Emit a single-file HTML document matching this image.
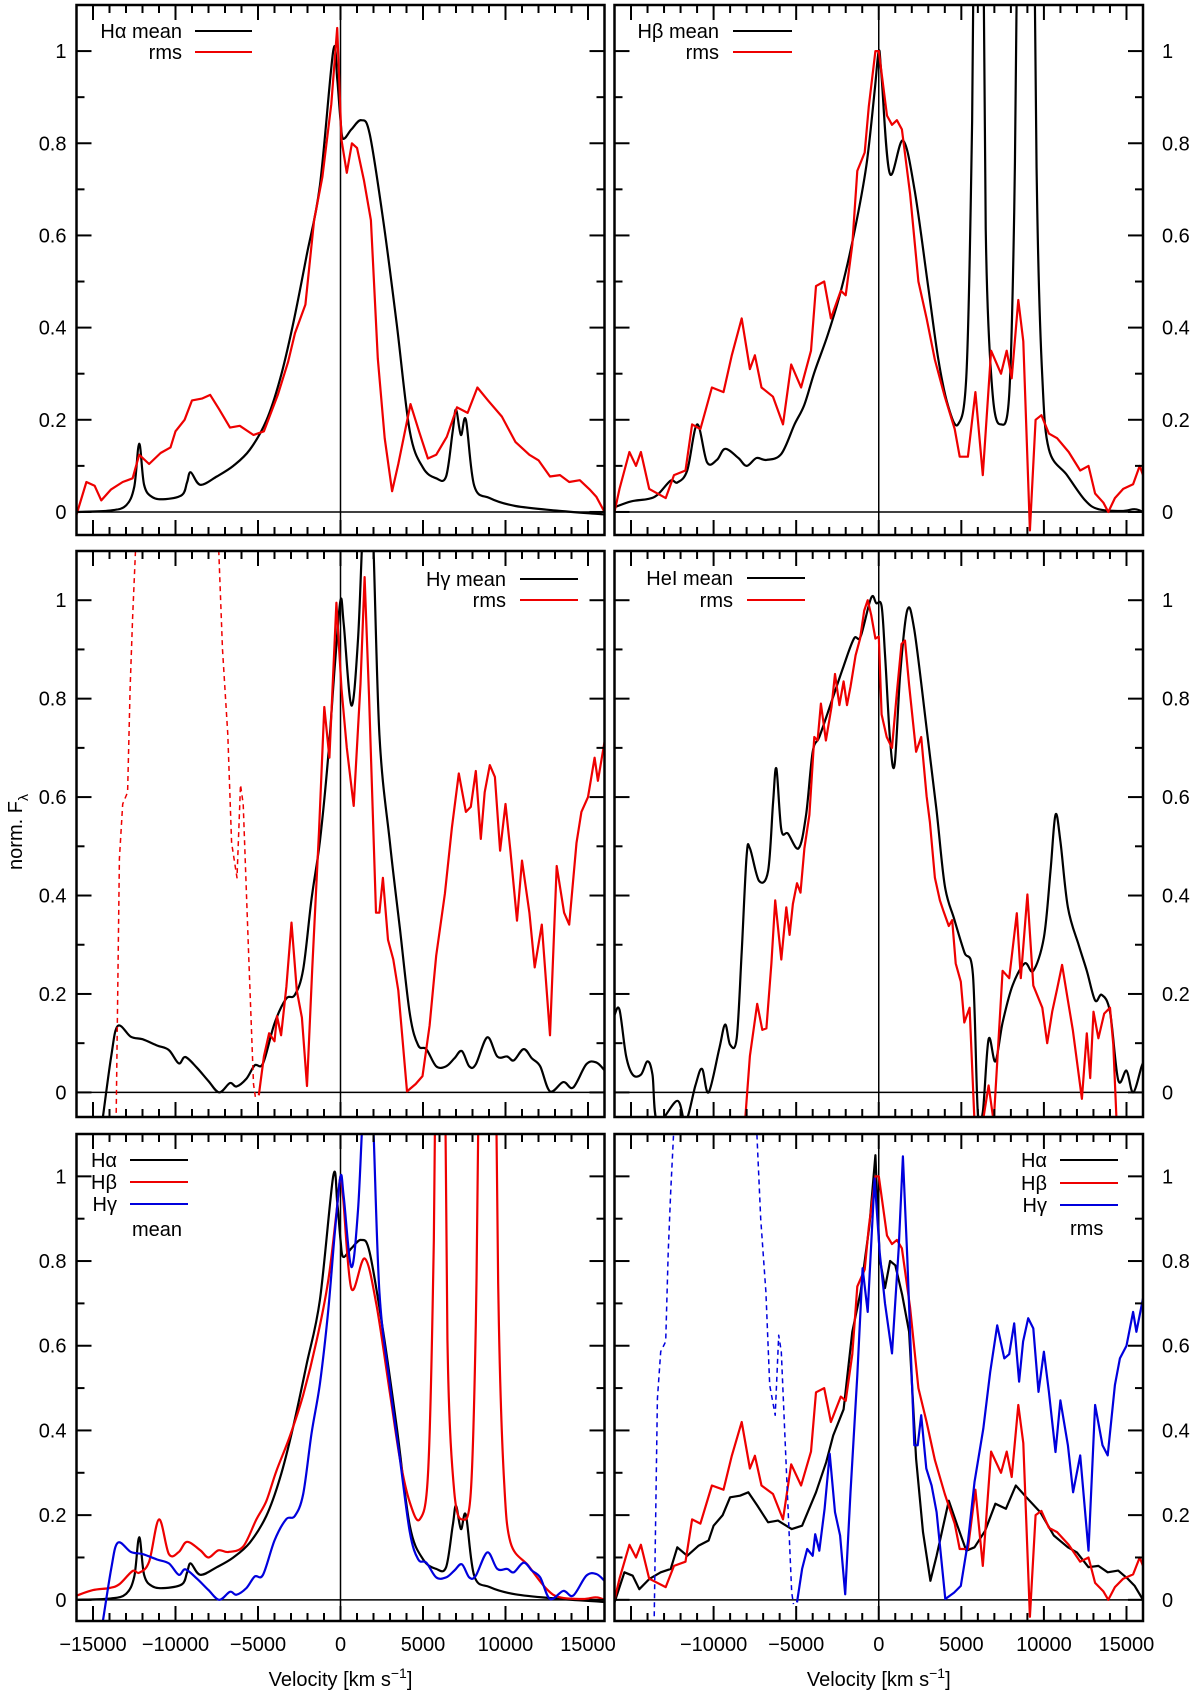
<!DOCTYPE html>
<html><head><meta charset="utf-8"><style>
html,body{margin:0;padding:0;background:#fff;}
svg{display:block;font-family:"Liberation Sans",sans-serif;}
</style></head><body>
<svg id="fig" width="1200" height="1693" viewBox="0 0 1200 1693" xmlns="http://www.w3.org/2000/svg"></svg>
<script>
// velocities in 10^3 km/s, normalized flux
const haMean=[[-16,0],[-14,0.003],[-13,0.014],[-12.5,0.055],[-12.2,0.148],[-11.9,0.059],[-11.4,0.032],[-10.6,0.028],[-9.6,0.037],[-9.3,0.064],[-9.08,0.086],[-8.5,0.059],[-7.5,0.077],[-6.5,0.1],[-5.5,0.135],[-4.5,0.198],[-3.67,0.287],[-2.86,0.41],[-2.06,0.555],[-1.25,0.708],[-0.44,1.0],[-0.2,0.94],[0,0.85],[0.16,0.81],[0.66,0.83],[1.26,0.85],[1.77,0.82],[2.6,0.63],[3.4,0.41],[4.2,0.175],[5.0,0.096],[5.8,0.073],[6.4,0.077],[6.8,0.175],[7.0,0.222],[7.3,0.167],[7.6,0.2],[8.1,0.057],[9.05,0.03],[10.6,0.013],[13.1,0.003],[15.9,-0.005],[16,-0.006]];
const hbMean=[[-16,0.01],[-15,0.023],[-14,0.028],[-13.4,0.037],[-12.6,0.068],[-12.2,0.064],[-11.6,0.09],[-11.0,0.19],[-10.4,0.108],[-9.8,0.113],[-9.3,0.137],[-8.5,0.117],[-8.0,0.1],[-7.4,0.117],[-6.8,0.113],[-5.9,0.126],[-5.1,0.19],[-4.5,0.233],[-3.88,0.305],[-3.07,0.386],[-2.26,0.484],[-1.46,0.61],[-0.75,0.752],[-0.25,0.913],[0,1.0],[0.16,0.95],[0.66,0.735],[1.47,0.806],[2.18,0.696],[2.99,0.49],[3.6,0.333],[4.2,0.23],[4.8,0.19],[5.3,0.293],[5.6,0.727],[5.77,1.3],[6.0,3],[6.32,1.3],[6.5,0.57],[6.9,0.254],[7.4,0.19],[7.9,0.254],[8.2,0.65],[8.4,1.3],[9.0,3],[9.4,1.3],[9.6,0.65],[9.9,0.293],[10.3,0.136],[11.4,0.08],[12.5,0.025],[13.3,0.006],[14.7,0.002],[15.5,0.006],[16,0]];
const hgMean=[[-14.4,-0.05],[-13.9,0.072],[-13.5,0.135],[-12.7,0.113],[-12.0,0.108],[-11.1,0.095],[-10.4,0.086],[-9.8,0.059],[-9.4,0.072],[-8.7,0.05],[-8.0,0.023],[-7.35,0.0],[-6.7,0.019],[-6.3,0.012],[-5.7,0.028],[-5.2,0.055],[-4.7,0.059],[-4.0,0.14],[-3.3,0.19],[-2.77,0.198],[-2.26,0.25],[-1.75,0.394],[-1.25,0.51],[-0.75,0.68],[-0.34,0.869],[0,1.0],[0.2,0.95],[0.66,0.786],[1.06,0.92],[1.36,1.15],[1.7,1.3],[1.96,1.15],[2.36,0.727],[3.0,0.506],[3.6,0.333],[4.2,0.16],[4.7,0.096],[5.2,0.088],[5.8,0.053],[6.4,0.053],[6.9,0.069],[7.35,0.084],[7.8,0.053],[8.2,0.057],[8.9,0.112],[9.5,0.073],[10.1,0.073],[10.5,0.065],[11.1,0.088],[11.6,0.069],[12.1,0.053],[12.7,0.002],[13.5,0.021],[14.1,0.01],[14.9,0.057],[15.5,0.061],[16,0.045]];
const haRms=[[-16,-0.006],[-15.4,0.065],[-14.9,0.057],[-14.5,0.025],[-13.9,0.049],[-13.2,0.065],[-12.6,0.073],[-12.2,0.124],[-11.6,0.104],[-10.9,0.128],[-10.3,0.14],[-10.0,0.175],[-9.45,0.2],[-9.0,0.242],[-8.4,0.246],[-7.9,0.254],[-7.36,0.223],[-6.7,0.183],[-6.1,0.187],[-5.27,0.167],[-4.64,0.175],[-3.8,0.254],[-3.18,0.325],[-2.76,0.388],[-2.13,0.45],[-1.6,0.633],[-1.1,0.727],[-0.56,0.885],[-0.2,1.05],[0.06,0.807],[0.38,0.736],[0.69,0.8],[1.0,0.79],[1.42,0.72],[1.84,0.633],[2.26,0.333],[2.68,0.16],[3.13,0.045],[3.5,0.104],[4.24,0.234],[4.76,0.175],[5.3,0.116],[5.8,0.124],[6.44,0.163],[7.06,0.227],[7.7,0.215],[8.3,0.27],[8.94,0.242],[9.78,0.207],[10.6,0.152],[11.45,0.124],[12.0,0.112],[12.7,0.077],[13.3,0.08],[13.86,0.065],[14.5,0.069],[15.1,0.049],[15.5,0.033],[16,0.0]];
const hbRms=[[-16,0.0],[-15.7,0.05],[-15.1,0.13],[-14.7,0.1],[-14.4,0.13],[-13.9,0.05],[-12.9,0.03],[-12.4,0.08],[-11.7,0.09],[-11.3,0.19],[-10.8,0.18],[-10.1,0.27],[-9.4,0.26],[-8.9,0.34],[-8.3,0.42],[-7.8,0.31],[-7.5,0.34],[-7.1,0.27],[-6.4,0.25],[-5.8,0.19],[-5.3,0.32],[-4.7,0.27],[-4.1,0.35],[-3.8,0.49],[-3.3,0.5],[-2.9,0.42],[-2.3,0.48],[-2.0,0.47],[-1.6,0.58],[-1.3,0.74],[-0.85,0.78],[-0.6,0.88],[-0.2,1.0],[0,1.0],[0.5,0.86],[0.8,0.84],[1.1,0.85],[1.4,0.83],[1.9,0.69],[2.4,0.5],[2.9,0.42],[3.4,0.33],[4.0,0.25],[4.6,0.18],[4.9,0.12],[5.4,0.12],[5.85,0.26],[6.3,0.08],[6.8,0.35],[7.4,0.3],[7.75,0.35],[8.05,0.29],[8.45,0.46],[8.75,0.37],[9.15,-0.04],[9.5,0.2],[9.85,0.21],[10.3,0.17],[10.8,0.16],[11.5,0.13],[12.2,0.09],[12.7,0.1],[13.1,0.04],[13.6,0.02],[13.9,0.0],[14.3,0.03],[14.8,0.05],[15.4,0.06],[15.8,0.1],[16,0.08]];
const hgRms=[[-4.95,-0.006],[-4.64,0.073],[-4.33,0.12],[-4.0,0.104],[-3.85,0.155],[-3.6,0.116],[-3.28,0.215],[-2.97,0.345],[-2.65,0.207],[-2.34,0.152],[-2.03,0.013],[-1.71,0.254],[-1.3,0.53],[-0.98,0.783],[-0.67,0.68],[-0.25,0.995],[0.06,0.82],[0.38,0.7],[0.8,0.582],[1.21,0.83],[1.46,1.047],[1.73,0.807],[2.15,0.365],[2.36,0.365],[2.57,0.436],[2.88,0.31],[3.2,0.27],[3.5,0.207],[4.03,0.002],[4.56,0.017],[4.97,0.033],[5.4,0.136],[5.8,0.278],[6.33,0.404],[6.75,0.538],[7.17,0.648],[7.6,0.57],[7.9,0.58],[8.2,0.653],[8.5,0.515],[8.74,0.61],[9.05,0.665],[9.36,0.641],[9.67,0.491],[10.0,0.586],[10.3,0.491],[10.7,0.349],[11.0,0.471],[11.45,0.365],[11.77,0.254],[12.2,0.341],[12.7,0.116],[13.1,0.46],[13.55,0.365],[13.86,0.341],[14.3,0.507],[14.6,0.57],[15.0,0.6],[15.4,0.68],[15.6,0.633],[16,0.712]];
const hgRmsDashA=[[-13.6,-0.06],[-13.4,0.475],[-13.2,0.586],[-12.9,0.61],[-12.75,0.82],[-12.6,0.964],[-12.4,1.12]];
const hgRmsDashB=[[-7.4,1.12],[-7.15,0.9],[-6.83,0.727],[-6.6,0.507],[-6.27,0.436],[-6.06,0.625],[-5.9,0.586],[-5.58,0.294],[-5.27,0.017],[-5.16,-0.01]];
const heMean=[[-16,0.157],[-15.7,0.168],[-15.3,0.074],[-14.9,0.036],[-14.4,0.036],[-14.0,0.063],[-13.7,0.036],[-13.4,-0.06],[-12.2,-0.017],[-11.7,-0.06],[-11.1,0.014],[-10.7,0.048],[-10.3,0],[-9.65,0.09],[-9.3,0.138],[-9.0,0.097],[-8.6,0.11],[-8.3,0.285],[-8.0,0.48],[-7.8,0.496],[-7.25,0.43],[-6.7,0.45],[-6.4,0.587],[-6.2,0.658],[-5.9,0.534],[-5.5,0.526],[-4.85,0.496],[-4.4,0.564],[-4.0,0.692],[-3.6,0.722],[-2.97,0.783],[-2.13,0.866],[-1.5,0.922],[-1.1,0.926],[-0.46,1.005],[-0.15,0.994],[0.17,0.988],[0.38,0.89],[0.69,0.715],[0.96,0.666],[1.3,0.85],[1.73,0.98],[2.15,0.94],[2.9,0.74],[3.5,0.572],[4.0,0.42],[4.56,0.353],[5.18,0.285],[5.7,0.24],[6.0,-0.04],[6.3,-0.04],[6.65,0.108],[7.06,0.063],[7.5,0.142],[8.1,0.217],[8.84,0.262],[9.36,0.247],[10.0,0.315],[10.4,0.45],[10.7,0.564],[11.0,0.51],[11.45,0.376],[12.1,0.3],[12.6,0.247],[13.1,0.187],[13.5,0.198],[14.0,0.164],[14.5,0.025],[15.0,0.044],[15.4,0],[15.9,0.051],[16,0.06]];
const heRms=[[-8.1,-0.06],[-7.8,0.074],[-7.36,0.18],[-7.05,0.127],[-6.8,0.13],[-6.5,0.262],[-6.27,0.39],[-5.9,0.27],[-5.6,0.376],[-5.4,0.32],[-5.2,0.383],[-4.95,0.425],[-4.74,0.406],[-4.5,0.496],[-4.2,0.564],[-3.9,0.722],[-3.7,0.715],[-3.5,0.79],[-3.2,0.715],[-2.86,0.783],[-2.65,0.85],[-2.38,0.787],[-2.13,0.835],[-1.92,0.787],[-1.71,0.824],[-1.4,0.888],[-1.13,0.922],[-0.88,0.979],[-0.67,1.0],[-0.46,0.97],[-0.2,0.922],[0,0.926],[0.17,0.768],[0.48,0.722],[0.8,0.7],[1.1,0.813],[1.38,0.911],[1.59,0.918],[1.84,0.828],[2.26,0.692],[2.57,0.722],[2.9,0.602],[3.1,0.549],[3.4,0.436],[3.7,0.39],[3.93,0.367],[4.24,0.338],[4.45,0.35],[4.66,0.262],[4.97,0.225],[5.18,0.142],[5.5,0.172],[5.8,-0.06],[6.3,-0.06],[6.65,0.014],[6.96,-0.06],[7.5,0.247],[7.9,0.232],[8.36,0.364],[8.6,0.232],[9.0,0.402],[9.36,0.217],[9.9,0.172],[10.2,0.1],[10.5,0.164],[10.8,0.21],[11.1,0.259],[11.45,0.187],[11.75,0.127],[12.3,-0.013],[12.6,0.12],[12.8,0.029],[13.0,0.164],[13.3,0.11],[13.65,0.16],[14.0,0.172],[14.2,0.097],[14.4,-0.06]];
const yTickLabels=["0","0.2","0.4","0.6","0.8","1"];
const yTickValues=[0,0.2,0.4,0.6,0.8,1];
const xTickValuesL=[-15000,-10000,-5000,0,5000,10000,15000];
const xTickValuesR=[-10000,-5000,0,5000,10000,15000];

const NS="http://www.w3.org/2000/svg";
const svg=document.getElementById('fig');
const cols=[{x0:76.5,x1:604.5},{x0:614.5,x1:1143}];
const rows=[{y0:5,y1:535},{y0:551,y1:1117},{y0:1134,y1:1621}];
const VMIN=-16,VMAX=16,YMIN=-0.05,YMAX=1.1;
function el(tag,attrs,parent){const e=document.createElementNS(NS,tag);for(const k in attrs)e.setAttribute(k,attrs[k]);(parent||svg).appendChild(e);return e;}
function xs(c,v){return c.x0+(v-VMIN)/(VMAX-VMIN)*(c.x1-c.x0);}
function ys(r,f){return r.y1-(f-YMIN)/(YMAX-YMIN)*(r.y1-r.y0);}
function smoothPath(P){
  let d='M'+P[0][0].toFixed(1)+','+P[0][1].toFixed(1);
  for(let i=0;i<P.length-1;i++){
    const p0=P[Math.max(0,i-1)],p1=P[i],p2=P[i+1],p3=P[Math.min(P.length-1,i+2)];
    const c1x=p1[0]+(p2[0]-p0[0])/6,c1y=p1[1]+(p2[1]-p0[1])/6;
    const c2x=p2[0]-(p3[0]-p1[0])/6,c2y=p2[1]-(p3[1]-p1[1])/6;
    d+=' C'+c1x.toFixed(1)+','+c1y.toFixed(1)+' '+c2x.toFixed(1)+','+c2y.toFixed(1)+' '+p2[0].toFixed(1)+','+p2[1].toFixed(1);
  }
  return d;
}

const panels=[
 {r:0,c:0,name:'panel-halpha',series:[[haMean,'#000',0,1],[haRms,'#e00',0,0]]},
 {r:0,c:1,name:'panel-hbeta',series:[[hbMean,'#000',0,1],[hbRms,'#e00',0,0]]},
 {r:1,c:0,name:'panel-hgamma',series:[[hgMean,'#000',0,1],[hgRms,'#e00',0,0],[hgRmsDashA,'#e00',1,0],[hgRmsDashB,'#e00',1,0]]},
 {r:1,c:1,name:'panel-hei',series:[[heMean,'#000',0,1],[heRms,'#e00',0,0]]},
 {r:2,c:0,name:'panel-mean-compare',series:[[haMean,'#000',0,1],[hbMean,'#e00',0,1],[hgMean,'#00d',0,1]]},
 {r:2,c:1,name:'panel-rms-compare',series:[[haRms,'#000',0,0],[hbRms,'#e00',0,0],[hgRms,'#00d',0,0],[hgRmsDashA,'#00d',1,0],[hgRmsDashB,'#00d',1,0]]}
];

panels.forEach((p,pi)=>{
  const c=cols[p.c],r=rows[p.r];
  const g=el('g',{});
  
  
  const cp=el('clipPath',{id:'cp'+pi},g);
  el('rect',{x:c.x0,y:r.y0,width:c.x1-c.x0,height:r.y1-r.y0},cp);
  const zl=el('line',{x1:c.x0,x2:c.x1,y1:ys(r,0),y2:ys(r,0),stroke:'#000','stroke-width':1.5},g);
  
  
  const vl=el('line',{x1:xs(c,0),x2:xs(c,0),y1:r.y0,y2:r.y1,stroke:'#000','stroke-width':1.5},g);
  
  
  p.series.forEach(s=>{
    const P=s[0].map(d=>[xs(c,d[0]),ys(r,d[1])]);
    let pl;
    if(s[3]){
      pl=el('path',{d:smoothPath(P),fill:'none',stroke:s[1],'stroke-width':2.2,'stroke-linejoin':'round','clip-path':'url(#cp'+pi+')'},g);
    }else{
      pl=el('polyline',{points:P.map(q=>q[0].toFixed(1)+','+q[1].toFixed(1)).join(' '),fill:'none',stroke:s[1],'stroke-width':s[2]?1.5:2.2,'stroke-linejoin':'round','clip-path':'url(#cp'+pi+')'},g);
    }
    if(s[2])pl.setAttribute('stroke-dasharray','5,4');
    
    
  });
  for(let v=-15;v<=15;v++){
    const x=xs(c,v),L=(v%5===0)?15:8;
    el('line',{x1:x,x2:x,y1:r.y1,y2:r.y1-L,stroke:'#000','stroke-width':2},g);
    el('line',{x1:x,x2:x,y1:r.y0,y2:r.y0+L,stroke:'#000','stroke-width':2},g);
  }
  for(let k=0;k<=10;k++){
    const y=ys(r,k*0.1),L=(k%2===0)?15:8;
    el('line',{x1:c.x0,x2:c.x0+L,y1:y,y2:y,stroke:'#000','stroke-width':2},g);
    el('line',{x1:c.x1,x2:c.x1-L,y1:y,y2:y,stroke:'#000','stroke-width':2},g);
  }
  yTickValues.forEach((v,i)=>{
    const t=el('text',{x:p.c===0?c.x0-10:c.x1+19,y:ys(r,v)+7,'font-size':20,'text-anchor':p.c===0?'end':'start'},g);
    t.textContent=yTickLabels[i];
    
    
  });
  if(p.r===2){
    (p.c===0?xTickValuesL:xTickValuesR).forEach(v=>{
      const t=el('text',{x:xs(c,v/1000),y:1651,'font-size':20,'text-anchor':'middle'},g);
      t.textContent=(v<0?'\u2212':'')+Math.abs(v);
      
      
    });
    const tt=el('text',{x:(c.x0+c.x1)/2,y:1686,'font-size':20,'text-anchor':'middle'},g);
    tt.innerHTML='Velocity [km s<tspan dy="-8" font-size="14">\u22121</tspan><tspan dy="8">]</tspan>';
    
    
  }
  const fr=el('rect',{x:c.x0,y:r.y0,width:c.x1-c.x0,height:r.y1-r.y0,fill:'none',stroke:'#000','stroke-width':2.5},g);
  
  
});

const legends=[
 {items:[['H\u03b1 mean','#000',182,31],['rms','#e00',182,52]],lx:[195,252]},
 {items:[['H\u03b2 mean','#000',719,31],['rms','#e00',719,52]],lx:[733,792]},
 {items:[['H\u03b3 mean','#000',506,579],['rms','#e00',506,600]],lx:[520,578]},
 {items:[['HeI mean','#000',733,578],['rms','#e00',733,600]],lx:[747,805]},
 {items:[['H\u03b1','#000',117,1160],['H\u03b2','#e00',117,1182],['H\u03b3','#00d',117,1204]],lx:[130,188]},
 {items:[['H\u03b1','#000',1047,1160],['H\u03b2','#e00',1047,1183],['H\u03b3','#00d',1047,1205]],lx:[1060,1118]}
];
legends.forEach(L=>{
  const g=el('g',{});
  
  
  L.items.forEach(it=>{
    const t=el('text',{x:it[2],y:it[3]+7,'font-size':20,'text-anchor':'end'},g);
    t.textContent=it[0];
    
    
    const ln=el('line',{x1:L.lx[0],x2:L.lx[1],y1:it[3],y2:it[3],stroke:it[1],'stroke-width':2},g);
    
    
  });
});
const m1=el('text',{x:132,y:1236,'font-size':20});
m1.textContent='mean';


const m2=el('text',{x:1070,y:1235,'font-size':20});
m2.textContent='rms';


const yl=el('text',{x:0,y:0,'font-size':20,'text-anchor':'middle',transform:'translate(22,832) rotate(-90)'});
yl.innerHTML='norm. F<tspan dy="6" font-size="14">\u03bb</tspan>';


</script>
</body></html>
